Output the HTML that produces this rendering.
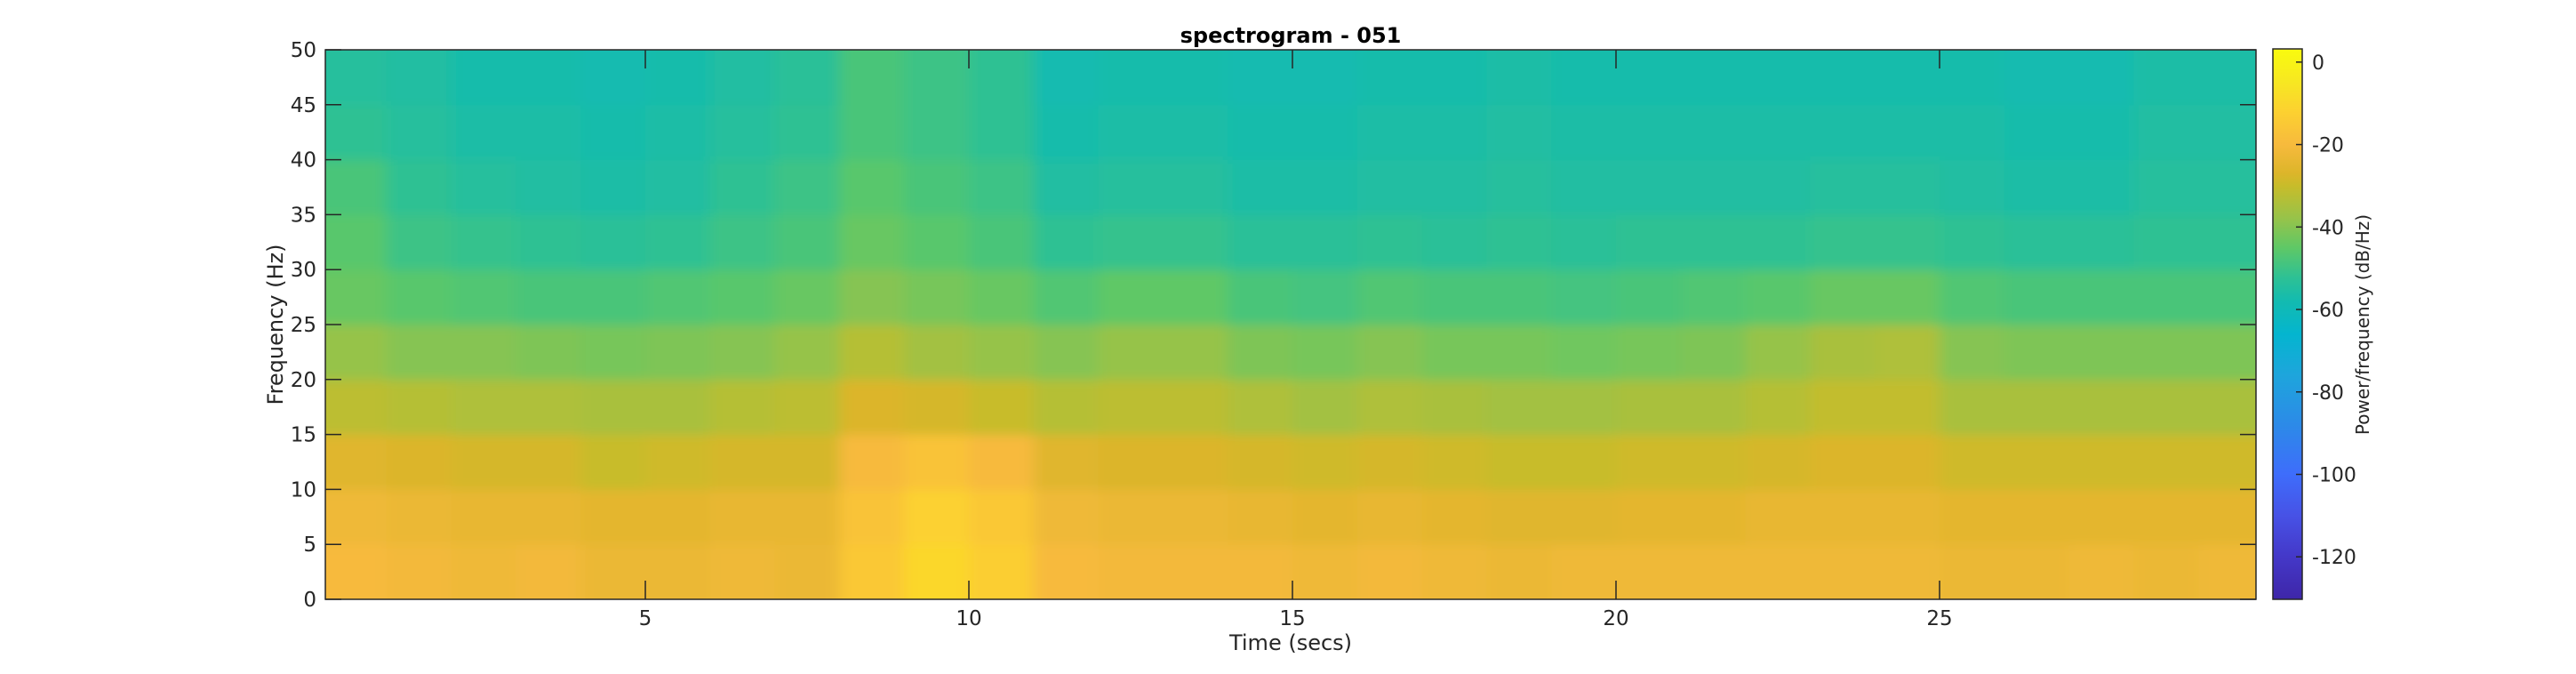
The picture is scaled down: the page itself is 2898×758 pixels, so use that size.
<!DOCTYPE html>
<html><head><meta charset="utf-8"><style>
html,body{margin:0;padding:0;background:#fff;}
svg{display:block;font-family:"DejaVu Sans","Liberation Sans",sans-serif;}
</style></head><body>
<svg id="chart" width="2898" height="758" viewBox="0 0 2898 758" xmlns="http://www.w3.org/2000/svg">
<defs>
<clipPath id="pc"><rect x="366" y="56" width="2172" height="618"/></clipPath>
<filter id="bl" x="0" y="0" width="1" height="1"><feGaussianBlur stdDeviation="8 6" edgeMode="duplicate"/></filter>
<linearGradient id="cbg" x1="0" y1="1" x2="0" y2="0"></linearGradient>
</defs>
<g id="cells" clip-path="url(#pc)"><g id="cellsInner" filter="url(#bl)"></g></g>
<g id="axes"></g>
<text x="1452" y="48" text-anchor="middle" font-size="24" font-weight="bold">spectrogram - 051</text>
<text x="1452" y="731" text-anchor="middle" font-size="24" fill="#262626">Time (secs)</text>
<text transform="translate(318,365) rotate(-90)" text-anchor="middle" font-size="24" fill="#262626">Frequency (Hz)</text>
<rect x="2557" y="55" width="33" height="619" fill="url(#cbg)" stroke="#262626" stroke-width="1.5"/>
<g id="cbticks"></g>
<text transform="translate(2665,365) rotate(-90)" text-anchor="middle" font-size="20" fill="#262626">Power/frequency (dB/Hz)</text>
</svg>
<script>
const timeStarts = [0,1,2,3,4,5,6,7,8,9,10,11,12,13,14,15,16,17,18,19,20,21,22,23,24,25,26,27,28,29];
const freqBands = [0,5,10,15,20,25,30,35,40,45];
const powerDb = [
[-20,-22,-26,-32,-38,-44,-46,-48,-52,-54],
[-21,-23,-27,-33,-40,-46,-50,-52,-54,-55],
[-22,-24,-28,-34,-40,-47,-51,-54,-56,-57],
[-21,-24,-28,-34,-41,-48,-52,-55,-56,-57],
[-23,-25,-30,-35,-42,-48,-53,-56,-57,-58],
[-23,-25,-29,-35,-41,-47,-52,-55,-56,-57],
[-22,-24,-28,-33,-40,-46,-50,-52,-54,-55],
[-23,-24,-28,-32,-38,-44,-48,-50,-52,-53],
[-15,-17,-20,-27,-33,-40,-44,-46,-48,-48],
[-10,-12,-17,-28,-36,-42,-46,-48,-50,-50],
[-13,-15,-20,-30,-38,-44,-48,-50,-52,-52],
[-20,-22,-26,-33,-40,-47,-52,-55,-57,-58],
[-21,-23,-27,-32,-38,-45,-51,-54,-56,-57],
[-21,-23,-27,-32,-38,-45,-51,-54,-56,-57],
[-21,-24,-28,-34,-41,-48,-53,-56,-57,-58],
[-22,-25,-29,-36,-42,-49,-53,-56,-57,-58],
[-21,-24,-28,-34,-40,-47,-52,-55,-56,-57],
[-22,-25,-29,-35,-42,-48,-53,-55,-56,-57],
[-23,-26,-30,-36,-42,-48,-52,-54,-55,-56],
[-22,-26,-30,-36,-43,-49,-53,-55,-56,-57],
[-22,-25,-29,-35,-42,-48,-52,-55,-56,-57],
[-22,-25,-29,-35,-41,-47,-52,-55,-56,-57],
[-22,-24,-28,-33,-38,-46,-52,-55,-56,-57],
[-22,-24,-27,-31,-35,-44,-51,-54,-56,-57],
[-22,-24,-27,-31,-34,-44,-51,-54,-56,-57],
[-23,-25,-29,-35,-40,-47,-52,-55,-56,-57],
[-23,-25,-29,-35,-41,-48,-53,-56,-57,-58],
[-22,-25,-29,-35,-41,-48,-53,-56,-57,-58],
[-23,-25,-29,-35,-41,-48,-52,-54,-55,-56],
[-22,-25,-29,-35,-41,-48,-52,-54,-55,-56]
];
const xTicks = [5,10,15,20,25];
const yTicks = [0,5,10,15,20,25,30,35,40,45,50];
const cbTicks = [0,-20,-40,-60,-80,-100,-120];
const cmapVals = [3.2,-5,-12,-20,-27,-30,-38,-45,-52,-58,-66,-76,-88,-100,-110,-120,-130.3];
const cmapCols = ["#f9fb0e","#f7e722","#fcd130","#f7ba3d","#dcb52a","#c8bc2a","#96c34a","#5fc866","#2fc193","#13bbb0","#04b5cf","#1ea5dc","#2c8ae8","#3e6dfb","#4752e6","#4438c8","#3e26a8"];
const NS="http://www.w3.org/2000/svg";
const X0=366,X1=2538,T0=0.055,T1=29.89,Y0=674,Y1=56,F1=50;
const CMIN=-130.3,CMAX=3.2,CB0=674,CB1=55;
function xs(t){return X0+(t-T0)*(X1-X0)/(T1-T0);}
function ys(f){return Y0-f*(Y0-Y1)/F1;}
function cy(v){return CB0-(v-CMIN)*(CB0-CB1)/(CMAX-CMIN);}
function hex(c){return [1,3,5].map(i=>parseInt(c.substr(i,2),16));}
function color(v){
  if(v>=cmapVals[0])return cmapCols[0];
  for(let i=0;i<cmapVals.length-1;i++){
    if(v<=cmapVals[i]&&v>=cmapVals[i+1]){
      const f=(cmapVals[i]-v)/(cmapVals[i]-cmapVals[i+1]);
      const a=hex(cmapCols[i]),b=hex(cmapCols[i+1]);
      return "rgb("+a.map((x,k)=>Math.round(x+(b[k]-x)*f)).join(",")+")";
    }
  }
  return cmapCols[cmapCols.length-1];
}
function mk(tag,attrs,parent){const e=document.createElementNS(NS,tag);for(const k in attrs)e.setAttribute(k,attrs[k]);parent.appendChild(e);return e;}
const ci=document.getElementById('cellsInner');
timeStarts.forEach((t,i)=>{
  const xa=xs(t), xb=xs(t+1);
  const xaa = i===0?X0-30:xa, xbb = i===timeStarts.length-1?X1+30:xb;
  freqBands.forEach((f,j)=>{
    const ya = j===freqBands.length-1?Y1-30:ys(f+5), yb = j===0?Y0+30:ys(f);
    const r=mk('rect',{x:xaa,y:ya,width:xbb-xaa+0.5,height:yb-ya+0.5,fill:color(powerDb[i][j])},ci);
    
    
  });
});
const ax=document.getElementById('axes');
const frame=mk('rect',{x:X0,y:Y1,width:X1-X0,height:Y0-Y1,fill:'none',stroke:'#262626','stroke-width':1.5},ax);


xTicks.forEach(v=>{
  const x=xs(v);
  mk('line',{x1:x,y1:Y0,x2:x,y2:Y0-21,stroke:'#262626','stroke-width':1.5},ax);
  mk('line',{x1:x,y1:Y1,x2:x,y2:Y1+21,stroke:'#262626','stroke-width':1.5},ax);
  const tx=mk('text',{x:x,y:703,'text-anchor':'middle','font-size':23,fill:'#262626'},ax);
  tx.textContent=v;
  
  
});
yTicks.forEach(v=>{
  const y=ys(v);
  mk('line',{x1:X0,y1:y,x2:X0+18,y2:y,stroke:'#262626','stroke-width':1.5},ax);
  mk('line',{x1:X1,y1:y,x2:X1-18,y2:y,stroke:'#262626','stroke-width':1.5},ax);
  const tx=mk('text',{x:356,y:y+8,'text-anchor':'end','font-size':23,fill:'#262626'},ax);
  tx.textContent=v;
  
  
});
const g=document.getElementById('cbg');
for(let i=cmapVals.length-1;i>=0;i--){
  mk('stop',{offset:((cmapVals[i]-CMIN)/(CMAX-CMIN)).toFixed(4),'stop-color':cmapCols[i]},g);
}
const cbt=document.getElementById('cbticks');
cbTicks.forEach(v=>{
  const y=cy(v);
  mk('line',{x1:2590,y1:y,x2:2583,y2:y,stroke:'#262626','stroke-width':1.5},cbt);
  const tx=mk('text',{x:2601,y:y+8,'font-size':22,fill:'#262626'},cbt);
  tx.textContent=v;
  
  
});
</script>
</body></html>
